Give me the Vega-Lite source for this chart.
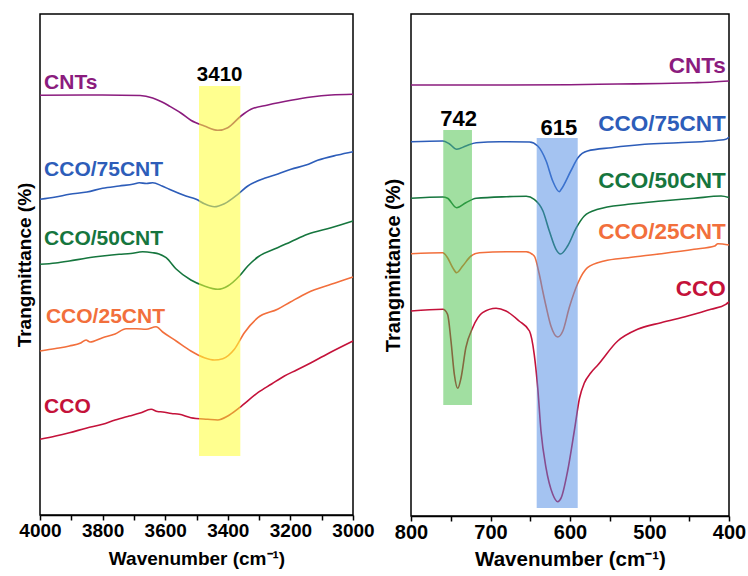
{
  "$schema": "https://vega.github.io/schema/vega-lite/v6.json",
  "autosize": {"type": "pad"},
  "padding": {"left": 14, "top": 13, "right": 2, "bottom": 2},
  "bounds": "flush",
  "spacing": 58,
  "config": {
    "font": "Liberation Sans",
    "view": {"stroke": "black", "strokeWidth": 1.5},
    "axis": {"grid": false}
  },
  "datasets": {
    "ohSpectra": [
      {"series": "CNTs", "wn": 4000, "t": 419.7}, {"series": "CNTs", "wn": 3800, "t": 420}, {"series": "CNTs", "wn": 3680, "t": 419.5}, {"series": "CNTs", "wn": 3640, "t": 417}, {"series": "CNTs", "wn": 3610, "t": 413}, {"series": "CNTs", "wn": 3587, "t": 409}, {"series": "CNTs", "wn": 3550, "t": 402}, {"series": "CNTs", "wn": 3518, "t": 394.7}, {"series": "CNTs", "wn": 3475, "t": 389}, {"series": "CNTs", "wn": 3432, "t": 384.7}, {"series": "CNTs", "wn": 3400, "t": 387.3}, {"series": "CNTs", "wn": 3358, "t": 399}, {"series": "CNTs", "wn": 3326, "t": 405.7}, {"series": "CNTs", "wn": 3272, "t": 410}, {"series": "CNTs", "wn": 3198, "t": 414.7}, {"series": "CNTs", "wn": 3134, "t": 418}, {"series": "CNTs", "wn": 3070, "t": 420}, {"series": "CNTs", "wn": 3000, "t": 420.7},
      {"series": "CCO/75CNT", "wn": 4000, "t": 315.7}, {"series": "CCO/75CNT", "wn": 3950, "t": 318}, {"series": "CCO/75CNT", "wn": 3906, "t": 320.7}, {"series": "CCO/75CNT", "wn": 3850, "t": 323}, {"series": "CCO/75CNT", "wn": 3800, "t": 326.7}, {"series": "CCO/75CNT", "wn": 3747, "t": 329}, {"series": "CCO/75CNT", "wn": 3700, "t": 331}, {"series": "CCO/75CNT", "wn": 3683, "t": 332.3}, {"series": "CCO/75CNT", "wn": 3660, "t": 331.5}, {"series": "CCO/75CNT", "wn": 3640, "t": 332.3}, {"series": "CCO/75CNT", "wn": 3610, "t": 329}, {"series": "CCO/75CNT", "wn": 3587, "t": 325.7}, {"series": "CCO/75CNT", "wn": 3534, "t": 319}, {"series": "CCO/75CNT", "wn": 3501, "t": 315.7}, {"series": "CCO/75CNT", "wn": 3475, "t": 311.3}, {"series": "CCO/75CNT", "wn": 3443, "t": 308.3}, {"series": "CCO/75CNT", "wn": 3411, "t": 311.3}, {"series": "CCO/75CNT", "wn": 3368, "t": 320.7}, {"series": "CCO/75CNT", "wn": 3336, "t": 329}, {"series": "CCO/75CNT", "wn": 3283, "t": 336.7}, {"series": "CCO/75CNT", "wn": 3240, "t": 341}, {"series": "CCO/75CNT", "wn": 3198, "t": 345.7}, {"series": "CCO/75CNT", "wn": 3150, "t": 350}, {"series": "CCO/75CNT", "wn": 3113, "t": 354.7}, {"series": "CCO/75CNT", "wn": 3049, "t": 360}, {"series": "CCO/75CNT", "wn": 3000, "t": 363.3},
      {"series": "CCO/50CNT", "wn": 4000, "t": 250.7}, {"series": "CCO/50CNT", "wn": 3950, "t": 252}, {"series": "CCO/50CNT", "wn": 3906, "t": 254}, {"series": "CCO/50CNT", "wn": 3850, "t": 257}, {"series": "CCO/50CNT", "wn": 3800, "t": 259}, {"series": "CCO/50CNT", "wn": 3747, "t": 260.7}, {"series": "CCO/50CNT", "wn": 3710, "t": 261.5}, {"series": "CCO/50CNT", "wn": 3672, "t": 263.3}, {"series": "CCO/50CNT", "wn": 3640, "t": 262.3}, {"series": "CCO/50CNT", "wn": 3620, "t": 261}, {"series": "CCO/50CNT", "wn": 3597, "t": 257.3}, {"series": "CCO/50CNT", "wn": 3565, "t": 246}, {"series": "CCO/50CNT", "wn": 3518, "t": 235}, {"series": "CCO/50CNT", "wn": 3475, "t": 229}, {"series": "CCO/50CNT", "wn": 3432, "t": 225.7}, {"series": "CCO/50CNT", "wn": 3400, "t": 229}, {"series": "CCO/50CNT", "wn": 3363, "t": 239}, {"series": "CCO/50CNT", "wn": 3336, "t": 249}, {"series": "CCO/50CNT", "wn": 3304, "t": 258}, {"series": "CCO/50CNT", "wn": 3241, "t": 267.3}, {"series": "CCO/50CNT", "wn": 3200, "t": 273}, {"series": "CCO/50CNT", "wn": 3145, "t": 280.7}, {"series": "CCO/50CNT", "wn": 3070, "t": 287.3}, {"series": "CCO/50CNT", "wn": 3000, "t": 294},
      {"series": "CCO/25CNT", "wn": 4000, "t": 164}, {"series": "CCO/25CNT", "wn": 3950, "t": 166.5}, {"series": "CCO/25CNT", "wn": 3906, "t": 169}, {"series": "CCO/25CNT", "wn": 3870, "t": 172}, {"series": "CCO/25CNT", "wn": 3853, "t": 175}, {"series": "CCO/25CNT", "wn": 3840, "t": 173}, {"series": "CCO/25CNT", "wn": 3800, "t": 177.3}, {"series": "CCO/25CNT", "wn": 3760, "t": 181}, {"series": "CCO/25CNT", "wn": 3725, "t": 186.3}, {"series": "CCO/25CNT", "wn": 3693, "t": 186.3}, {"series": "CCO/25CNT", "wn": 3661, "t": 185.7}, {"series": "CCO/25CNT", "wn": 3629, "t": 188.3}, {"series": "CCO/25CNT", "wn": 3608, "t": 183}, {"series": "CCO/25CNT", "wn": 3565, "t": 174}, {"series": "CCO/25CNT", "wn": 3518, "t": 164}, {"series": "CCO/25CNT", "wn": 3475, "t": 157.3}, {"series": "CCO/25CNT", "wn": 3443, "t": 155}, {"series": "CCO/25CNT", "wn": 3416, "t": 156.3}, {"series": "CCO/25CNT", "wn": 3379, "t": 165.7}, {"series": "CCO/25CNT", "wn": 3347, "t": 182.3}, {"series": "CCO/25CNT", "wn": 3304, "t": 197.3}, {"series": "CCO/25CNT", "wn": 3241, "t": 205.7}, {"series": "CCO/25CNT", "wn": 3200, "t": 213}, {"series": "CCO/25CNT", "wn": 3145, "t": 222.3}, {"series": "CCO/25CNT", "wn": 3070, "t": 230.7}, {"series": "CCO/25CNT", "wn": 3000, "t": 238},
      {"series": "CCO", "wn": 4000, "t": 75.7}, {"series": "CCO", "wn": 3950, "t": 79}, {"series": "CCO", "wn": 3906, "t": 82.3}, {"series": "CCO", "wn": 3850, "t": 87}, {"series": "CCO", "wn": 3800, "t": 90.7}, {"series": "CCO", "wn": 3760, "t": 95}, {"series": "CCO", "wn": 3715, "t": 99}, {"series": "CCO", "wn": 3680, "t": 102}, {"series": "CCO", "wn": 3645, "t": 105.7}, {"series": "CCO", "wn": 3625, "t": 103.5}, {"series": "CCO", "wn": 3608, "t": 103}, {"series": "CCO", "wn": 3580, "t": 101.5}, {"series": "CCO", "wn": 3555, "t": 100.7}, {"series": "CCO", "wn": 3518, "t": 97.3}, {"series": "CCO", "wn": 3464, "t": 95.7}, {"series": "CCO", "wn": 3432, "t": 95}, {"series": "CCO", "wn": 3400, "t": 99}, {"series": "CCO", "wn": 3363, "t": 107.3}, {"series": "CCO", "wn": 3304, "t": 122.3}, {"series": "CCO", "wn": 3260, "t": 131}, {"series": "CCO", "wn": 3219, "t": 139}, {"series": "CCO", "wn": 3180, "t": 145}, {"series": "CCO", "wn": 3134, "t": 152.3}, {"series": "CCO", "wn": 3070, "t": 163}, {"series": "CCO", "wn": 3000, "t": 174}
    ],
    "lowSpectra": [
      {"series": "CNTs", "wn": 800, "t": 431}, {"series": "CNTs", "wn": 700, "t": 431}, {"series": "CNTs", "wn": 600, "t": 431.3}, {"series": "CNTs", "wn": 540, "t": 432}, {"series": "CNTs", "wn": 485, "t": 432.5}, {"series": "CNTs", "wn": 444, "t": 433.3}, {"series": "CNTs", "wn": 420, "t": 434}, {"series": "CNTs", "wn": 400, "t": 435},
      {"series": "CCO/75CNT", "wn": 800, "t": 374.3}, {"series": "CCO/75CNT", "wn": 760, "t": 375}, {"series": "CCO/75CNT", "wn": 752, "t": 372.3}, {"series": "CCO/75CNT", "wn": 742.5, "t": 366.7}, {"series": "CCO/75CNT", "wn": 731, "t": 370}, {"series": "CCO/75CNT", "wn": 718, "t": 373.3}, {"series": "CCO/75CNT", "wn": 689, "t": 374.3}, {"series": "CCO/75CNT", "wn": 651, "t": 374}, {"series": "CCO/75CNT", "wn": 640.6, "t": 370}, {"series": "CCO/75CNT", "wn": 630, "t": 355}, {"series": "CCO/75CNT", "wn": 621.7, "t": 335}, {"series": "CCO/75CNT", "wn": 613.4, "t": 324.3}, {"series": "CCO/75CNT", "wn": 611, "t": 326.7}, {"series": "CCO/75CNT", "wn": 599, "t": 345}, {"series": "CCO/75CNT", "wn": 590, "t": 358.3}, {"series": "CCO/75CNT", "wn": 578, "t": 365}, {"series": "CCO/75CNT", "wn": 548, "t": 368.3}, {"series": "CCO/75CNT", "wn": 506, "t": 371.7}, {"series": "CCO/75CNT", "wn": 464, "t": 373.3}, {"series": "CCO/75CNT", "wn": 423, "t": 375}, {"series": "CCO/75CNT", "wn": 404, "t": 376.7}, {"series": "CCO/75CNT", "wn": 400, "t": 379},
      {"series": "CCO/50CNT", "wn": 800, "t": 317.7}, {"series": "CCO/50CNT", "wn": 760, "t": 319}, {"series": "CCO/50CNT", "wn": 754, "t": 317.7}, {"series": "CCO/50CNT", "wn": 742.5, "t": 308.3}, {"series": "CCO/50CNT", "wn": 731, "t": 313.3}, {"series": "CCO/50CNT", "wn": 718, "t": 317.7}, {"series": "CCO/50CNT", "wn": 680, "t": 319.3}, {"series": "CCO/50CNT", "wn": 655, "t": 319.7}, {"series": "CCO/50CNT", "wn": 645, "t": 316.7}, {"series": "CCO/50CNT", "wn": 634, "t": 305}, {"series": "CCO/50CNT", "wn": 626, "t": 285}, {"series": "CCO/50CNT", "wn": 617.6, "t": 266.7}, {"series": "CCO/50CNT", "wn": 612, "t": 262}, {"series": "CCO/50CNT", "wn": 603, "t": 270}, {"series": "CCO/50CNT", "wn": 592, "t": 288.3}, {"series": "CCO/50CNT", "wn": 582, "t": 300}, {"series": "CCO/50CNT", "wn": 565, "t": 306.7}, {"series": "CCO/50CNT", "wn": 527, "t": 311.7}, {"series": "CCO/50CNT", "wn": 485, "t": 315}, {"series": "CCO/50CNT", "wn": 444, "t": 317.7}, {"series": "CCO/50CNT", "wn": 410, "t": 320}, {"series": "CCO/50CNT", "wn": 400, "t": 318.5},
      {"series": "CCO/25CNT", "wn": 800, "t": 262.3}, {"series": "CCO/25CNT", "wn": 760, "t": 263.3}, {"series": "CCO/25CNT", "wn": 754, "t": 258.3}, {"series": "CCO/25CNT", "wn": 747.5, "t": 248.3}, {"series": "CCO/25CNT", "wn": 742.5, "t": 243.3}, {"series": "CCO/25CNT", "wn": 735, "t": 250}, {"series": "CCO/25CNT", "wn": 724.5, "t": 260}, {"series": "CCO/25CNT", "wn": 714, "t": 263.3}, {"series": "CCO/25CNT", "wn": 680, "t": 264.3}, {"series": "CCO/25CNT", "wn": 655, "t": 264.3}, {"series": "CCO/25CNT", "wn": 645, "t": 260}, {"series": "CCO/25CNT", "wn": 638.6, "t": 241.7}, {"series": "CCO/25CNT", "wn": 634.3, "t": 225}, {"series": "CCO/25CNT", "wn": 630.2, "t": 210}, {"series": "CCO/25CNT", "wn": 624, "t": 190}, {"series": "CCO/25CNT", "wn": 615.5, "t": 179}, {"series": "CCO/25CNT", "wn": 609, "t": 185}, {"series": "CCO/25CNT", "wn": 601, "t": 208.3}, {"series": "CCO/25CNT", "wn": 590, "t": 233}, {"series": "CCO/25CNT", "wn": 578, "t": 248.3}, {"series": "CCO/25CNT", "wn": 557, "t": 255}, {"series": "CCO/25CNT", "wn": 527, "t": 258.3}, {"series": "CCO/25CNT", "wn": 485, "t": 262.3}, {"series": "CCO/25CNT", "wn": 444, "t": 266.7}, {"series": "CCO/25CNT", "wn": 418, "t": 270}, {"series": "CCO/25CNT", "wn": 414, "t": 272.3}, {"series": "CCO/25CNT", "wn": 400, "t": 271},
      {"series": "CCO", "wn": 800, "t": 205}, {"series": "CCO", "wn": 760, "t": 206.7}, {"series": "CCO", "wn": 754, "t": 201.7}, {"series": "CCO", "wn": 749.7, "t": 175}, {"series": "CCO", "wn": 745.5, "t": 141.7}, {"series": "CCO", "wn": 741.2, "t": 127.7}, {"series": "CCO", "wn": 737, "t": 138.3}, {"series": "CCO", "wn": 731, "t": 168.3}, {"series": "CCO", "wn": 722.4, "t": 188.3}, {"series": "CCO", "wn": 710, "t": 203.3}, {"series": "CCO", "wn": 693, "t": 207.7}, {"series": "CCO", "wn": 680.5, "t": 205}, {"series": "CCO", "wn": 664, "t": 195}, {"series": "CCO", "wn": 651, "t": 185}, {"series": "CCO", "wn": 645, "t": 161.7}, {"series": "CCO", "wn": 640.6, "t": 128.3}, {"series": "CCO", "wn": 636.5, "t": 85}, {"series": "CCO", "wn": 630.2, "t": 48.3}, {"series": "CCO", "wn": 621.7, "t": 21.7}, {"series": "CCO", "wn": 615.5, "t": 14.3}, {"series": "CCO", "wn": 611, "t": 18.3}, {"series": "CCO", "wn": 603, "t": 45}, {"series": "CCO", "wn": 594.6, "t": 85}, {"series": "CCO", "wn": 588, "t": 118}, {"series": "CCO", "wn": 582, "t": 133}, {"series": "CCO", "wn": 574, "t": 143}, {"series": "CCO", "wn": 565, "t": 151}, {"series": "CCO", "wn": 540, "t": 175}, {"series": "CCO", "wn": 515, "t": 186.7}, {"series": "CCO", "wn": 485.5, "t": 193.3}, {"series": "CCO", "wn": 452, "t": 200}, {"series": "CCO", "wn": 422.6, "t": 206.7}, {"series": "CCO", "wn": 404, "t": 211.7}, {"series": "CCO", "wn": 400, "t": 214}
    ],
    "ohBands": [
      {"wn": 3492, "wn2": 3360, "t": 59, "t2": 429, "shade": "#ffff33"}
    ],
    "lowBands": [
      {"wn": 759.4, "wn2": 723.3, "t": 111, "t2": 386, "shade": "#44c044"},
      {"wn": 641.9, "wn2": 590.3, "t": 8, "t2": 378, "shade": "#4a88e4"}
    ],
    "ohPeaks": [
      {"wn": 3426, "t": 434, "txt": "3410"}
    ],
    "lowPeaks": [
      {"wn": 740, "t": 390, "txt": "742"},
      {"wn": 614, "t": 381, "txt": "615"}
    ],
    "ohNames": [
      {"series": "CNTs", "wn": 3987, "t": 426},
      {"series": "CCO/75CNT", "wn": 3987, "t": 339},
      {"series": "CCO/50CNT", "wn": 3987, "t": 270},
      {"series": "CCO/25CNT", "wn": 3981, "t": 192},
      {"series": "CCO", "wn": 3987, "t": 102}
    ],
    "lowNames": [
      {"series": "CNTs", "wn": 404, "t": 443},
      {"series": "CCO/75CNT", "wn": 404, "t": 385},
      {"series": "CCO/50CNT", "wn": 404, "t": 328},
      {"series": "CCO/25CNT", "wn": 404, "t": 277},
      {"series": "CCO", "wn": 404, "t": 220}
    ]
  },
  "hconcat": [
    {
      "width": 313,
      "height": 501,
      "encoding": {
        "x": {
          "field": "wn", "type": "quantitative",
          "scale": {"domain": [3000, 4000], "reverse": true, "nice": false, "zero": false},
          "axis": {
            "title": "Wavenumber (cm⁻¹)",
            "values": [4000, 3900, 3800, 3700, 3600, 3500, 3400, 3300, 3200, 3100, 3000],
            "format": "d",
            "labelExpr": "datum.value % 200 === 0 ? datum.label : ''",
            "labelOverlap": false, "labelFlush": false,
            "domainColor": "black", "domainWidth": 1.5,
            "tickColor": "black", "tickWidth": 1.5, "tickSize": 5,
            "labelFontSize": 19, "labelFontWeight": "bold", "labelColor": "black", "labelPadding": 1,
            "titleFontSize": 19, "titleFontWeight": "bold", "titleColor": "black", "titlePadding": 9
          }
        },
        "y": {
          "field": "t", "type": "quantitative",
          "scale": {"domain": [0, 501], "nice": false, "zero": false},
          "axis": {
            "title": "Trangmittance (%)",
            "domain": false, "ticks": false, "labels": false,
            "titleFontSize": 19, "titleFontWeight": "bold", "titleColor": "black", "titlePadding": 6
          }
        }
      },
      "layer": [
        {
          "data": {"name": "ohSpectra"},
          "mark": {"type": "line", "interpolate": "monotone", "strokeWidth": 1.6},
          "encoding": {
            "color": {
              "field": "series", "type": "nominal", "legend": null,
              "scale": {"domain": ["CNTs", "CCO/75CNT", "CCO/50CNT", "CCO/25CNT", "CCO"], "range": ["#8b1c7e", "#2d5db9", "#16763e", "#f26f3c", "#c4123a"]}
            }
          }
        },
        {
          "data": {"name": "ohBands"},
          "mark": {"type": "rect", "opacity": 0.55},
          "encoding": {
            "x2": {"field": "wn2"},
            "y2": {"field": "t2"},
            "color": {"field": "shade", "type": "nominal", "scale": null}
          }
        },
        {
          "data": {"name": "ohNames"},
          "mark": {"type": "text", "align": "left", "baseline": "alphabetic", "fontSize": 21, "fontWeight": "bold"},
          "encoding": {
            "text": {"field": "series"},
            "color": {"field": "series", "type": "nominal", "legend": null}
          }
        },
        {
          "data": {"name": "ohPeaks"},
          "mark": {"type": "text", "align": "center", "baseline": "alphabetic", "fontSize": 20.5, "fontWeight": "bold", "color": "black"},
          "encoding": {"text": {"field": "txt"}}
        }
      ]
    },
    {
      "width": 318,
      "height": 502,
      "encoding": {
        "x": {
          "field": "wn", "type": "quantitative",
          "scale": {"domain": [400, 800], "reverse": true, "nice": false, "zero": false},
          "axis": {
            "title": "Wavenumber (cm⁻¹)",
            "values": [800, 750, 700, 650, 600, 550, 500, 450, 400],
            "format": "d",
            "labelExpr": "datum.value % 100 === 0 ? datum.label : ''",
            "labelOverlap": false, "labelFlush": false,
            "domainColor": "black", "domainWidth": 1.5,
            "tickColor": "black", "tickWidth": 1.5, "tickSize": 5,
            "labelFontSize": 20, "labelFontWeight": "bold", "labelColor": "black", "labelPadding": 1,
            "titleFontSize": 20.5, "titleFontWeight": "bold", "titleColor": "black", "titlePadding": 7
          }
        },
        "y": {
          "field": "t", "type": "quantitative",
          "scale": {"domain": [0, 502], "nice": false, "zero": false},
          "axis": {
            "title": "Trangmittance (%)",
            "domain": false, "ticks": false, "labels": false,
            "titleFontSize": 20, "titleFontWeight": "bold", "titleColor": "black", "titlePadding": 8
          }
        }
      },
      "layer": [
        {
          "data": {"name": "lowSpectra"},
          "mark": {"type": "line", "interpolate": "monotone", "strokeWidth": 1.6},
          "encoding": {
            "color": {"field": "series", "type": "nominal", "legend": null}
          }
        },
        {
          "data": {"name": "lowBands"},
          "mark": {"type": "rect", "opacity": 0.5},
          "encoding": {
            "x2": {"field": "wn2"},
            "y2": {"field": "t2"},
            "color": {"field": "shade", "type": "nominal", "scale": null}
          }
        },
        {
          "data": {"name": "lowNames"},
          "mark": {"type": "text", "align": "right", "baseline": "alphabetic", "fontSize": 22.5, "fontWeight": "bold"},
          "encoding": {
            "text": {"field": "series"},
            "color": {"field": "series", "type": "nominal", "legend": null}
          }
        },
        {
          "data": {"name": "lowPeaks"},
          "mark": {"type": "text", "align": "center", "baseline": "alphabetic", "fontSize": 22, "fontWeight": "bold", "color": "black"},
          "encoding": {"text": {"field": "txt"}}
        }
      ]
    }
  ]
}
